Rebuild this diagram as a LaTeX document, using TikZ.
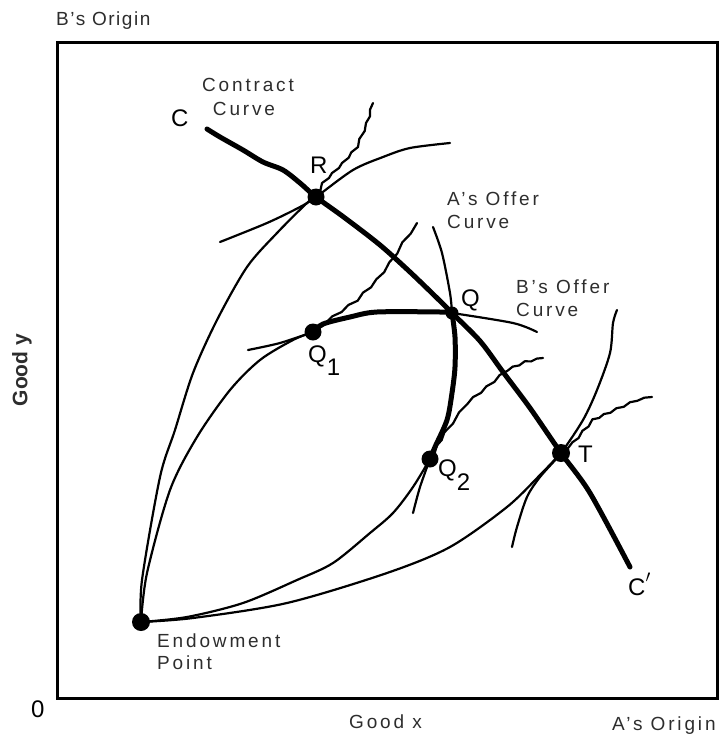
\documentclass[tikz,border=0pt]{standalone}
\usepackage{fontspec}
\setmainfont{Liberation Sans}
\newfontfamily\lblfont[LetterSpace=15]{Liberation Sans}
\newfontfamily\lblfontn[LetterSpace=8]{Liberation Sans}
\definecolor{lblgray}{RGB}{45,45,45}
\begin{document}
\begin{tikzpicture}[x=1pt,y=-1pt,
  thincurve/.style={line width=2.2pt, line cap=round, line join=round},
  thickcurve/.style={line width=5pt, line cap=round, line join=round},
  dot/.style={circle, fill=black, inner sep=0pt, minimum size=#1},
  lbl/.style={font=\lblfont\fontsize{19}{23}\selectfont, text=lblgray, inner sep=0pt},
  ptlbl/.style={font=\fontsize{24}{28}\selectfont, inner sep=0pt}]
\useasboundingbox (0,0) rectangle (723,734);
% frame
\draw[line width=3pt] (57,42) rectangle (717,698);
% key points
\coordinate (E) at (141,622);
\coordinate (R) at (316,197);
\coordinate (Q) at (452,313);
\coordinate (Q1) at (313,332);
\coordinate (Q2) at (430,459);
\coordinate (T) at (561,453);
% curves from endowment point
\draw[thincurve] plot[smooth] coordinates {(E) (142,580) (160,477) (175,430) (193,373) (217,320) (247,267) (277,233) (307,203) (R)};
\draw[thincurve] plot coordinates {(R) (320.5,190) (322,183) (329,178) (332,173) (339,168) (342,163) (348.7,157.7) (351.3,152.3) (358,147) (359.3,139) (364.7,131) (366,123) (370,116.3) (370,109.7) (373,103)};
\draw[thincurve] plot[smooth] coordinates {(E) (147,573) (170,490) (197,437) (230,390) (260,360) (293,340) (Q1)};
\draw[thincurve] plot coordinates {(Q1) (323.7,325.2) (332.3,316.3) (341.7,312) (348.3,305) (357.7,300.7) (363,292.6) (371,287.4) (376.3,279.3) (384.2,272.2) (389.3,262.3) (397.2,253.7) (402.3,242.3) (410.7,233.7) (417,223)};
\draw[thincurve] plot[smooth] coordinates {(E) (187,617) (243,603) (297,580) (333,563) (370,533) (393,513) (413,487) (Q2)};
\draw[thincurve] plot coordinates {(Q2) (434.7,453.1) (436.8,445.4) (441.7,440.1) (444.3,432.4) (453,423.6) (459,412.4) (467.7,403.6) (473,397.1) (481,392.9) (486.3,386.4) (494.4,381.9) (499.6,375.1) (507.6,370.7) (512.7,366.6) (519.3,365.4) (524.7,361.3) (531.2,361.4) (536.8,358.6) (543,358)};
\draw[thincurve] plot[smooth] coordinates {(E) (193,618) (287,603) (387,573) (450,547) (507,507) (540,475) (T)};
\draw[thincurve] plot coordinates {(T) (567.6,448.7) (572.4,442.3) (578.6,438) (582.4,430.8) (588.6,426.5) (592.4,419.3) (599.1,418) (603.9,414) (610.4,412.8) (616.4,408.2) (623.8,406.8) (630,402.2) (637.3,400.8) (644.3,397.7) (652,397)};
% indifference curves
\draw[thincurve] plot[smooth] coordinates {(220,242) (267,223) (300,207) (R) (353,170) (383,157) (410,148) (450,143)};
\draw[thincurve] plot[smooth] coordinates {(248,350) (280,343) (Q1)};
\draw[thincurve] plot[smooth] coordinates {(413,513) (420,487) (Q2)};
\draw[thincurve] plot[smooth] coordinates {(512,547) (517,527) (527,497) (540,477) (T) (583,420) (597,390) (610,353) (613,323) (617,310)};
% offer curves (thin parts)
\draw[thincurve] plot[smooth] coordinates {(433,227) (442,253) (450,293) (Q)};
\draw[thincurve] plot[smooth] coordinates {(Q) (513,323) (537,332)};
% offer curves (thick parts)
\draw[thickcurve] plot[smooth] coordinates {(Q1) (323,324) (350,317) (377,312) (440,312) (Q)};
\draw[thickcurve] plot[smooth] coordinates {(Q) (455,337) (455,367) (452,393) (447,420) (435,447) (Q2)};
% contract curve
\draw[thickcurve] plot[smooth] coordinates {(207,129) (220,137) (243,150) (263,162) (283,170) (300,183) (R) (345,218) (380,245) (410,272) (437,298) (Q) (480,341) (503,372) (530,408) (T) (590,493) (630,567)};
% dots
\node[dot=18pt] (Edot) at (E) {};
\node[dot=17pt] (Rdot) at (R) {};
\node[dot=13pt] (Qdot) at (Q) {};
\node[dot=17pt] (Q1dot) at (Q1) {};
\node[dot=17pt] (Q2dot) at (Q2) {};
\node[dot=18pt] (Tdot) at (T) {};
% point labels
\node[ptlbl, anchor=base west] (Clbl) at (171,126) {C};
\node[ptlbl, anchor=base west] (Rlbl) at (310,173) {R};
\node[ptlbl, anchor=base west] (Qlbl) at (461,306) {Q};
\node[ptlbl, anchor=base west] (Tlbl) at (578,462) {T};
\node[ptlbl, anchor=base west] (Q1lbl) at (308,362) {Q\raisebox{-13pt}{1}};
\node[ptlbl, anchor=base west] (Q2lbl) at (438,476) {Q\raisebox{-14pt}{2}};
\node[ptlbl, anchor=base west] (Cplbl) at (628,595) {C\raisebox{3pt}{$'$}};
\node[ptlbl, anchor=base west] (zero) at (31,717) {0};
% text labels
\node[lbl, font=\lblfontn\fontsize{19}{23}\selectfont, anchor=base west] (borig) at (56,25) {B’s Origin};
\node[lbl, anchor=base] (cc1) at (248,91) {Contract};
\node[lbl, anchor=base] (cc2) at (244,115) {Curve};
\node[lbl, anchor=base west] (ao1) at (447,205) {A’s Offer};
\node[lbl, anchor=base west] (ao2) at (447,228) {Curve};
\node[lbl, anchor=base west] (bo1) at (516,293) {B’s Offer};
\node[lbl, anchor=base west] (bo2) at (516,316) {Curve};
\node[lbl, anchor=base west] (ep1) at (157,647) {Endowment};
\node[lbl, anchor=base west] (ep2) at (157,669) {Point};
\node[lbl, anchor=base west] (goodx) at (349,728) {Good x};
\node[lbl, anchor=base west] (aorig) at (612,730) {A’s Origin};
\node[font=\bfseries\fontsize{21}{25}\selectfont, text=lblgray, inner sep=0pt, rotate=90] (goody) at (22,370) {Good y};
\end{tikzpicture}
\end{document}
